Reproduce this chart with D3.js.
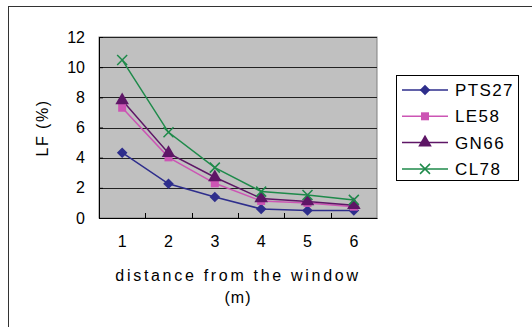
<!DOCTYPE html>
<html>
<head>
<meta charset="utf-8">
<script src="https://cdn.jsdelivr.net/npm/d3@7"></script>
<style>
  body { margin: 0; background: #fff; }
  text { font-family: "Liberation Sans", Arial, sans-serif; fill: #000; }
</style>
</head>
<body>
<div id="chart"></div>
<script>
// 資料
const distances = ["1", "2", "3", "4", "5", "6"];
const yTicks = [0, 2, 4, 6, 8, 10, 12];
const seriesNames = ["PTS27", "LE58", "GN66", "CL78"];
const pts27 = [4.33, 2.27, 1.39, 0.6, 0.5, 0.5];
const le58 = [7.31, 4.02, 2.3, 1.13, 1.0, 0.75];
const gn66 = [7.8, 4.3, 2.7, 1.3, 1.1, 0.85];
const cl78 = [10.48, 5.68, 3.34, 1.75, 1.53, 1.2];
const colors = ["#2e2e8c", "#cc55b4", "#5e1666", "#1e8a4a"];
const symbols = [d3.symbolSquare, d3.symbolSquare, d3.symbolTriangle, d3.symbolCross];

const allSeries = [pts27, le58, gn66, cl78];

const W = 532, H = 327;
const plot = {left: 99, top: 37, right: 377, bottom: 218};

const svg = d3.select("#chart").append("svg")
    .attr("width", W)
    .attr("height", H);

// 外框
svg.append("rect")
    .attr("x", 8.5).attr("y", 6.5)
    .attr("width", 600).attr("height", 400)
    .attr("fill", "none")
    .attr("stroke", "#333");

// 比例尺
const x = d3.scaleBand()
    .domain(distances)
    .range([plot.left, plot.right]);

const y = d3.scaleLinear()
    .domain([0, 12])
    .range([plot.bottom, plot.top]);

// 繪圖區背景
svg.append("rect")
    .attr("x", plot.left).attr("y", plot.top)
    .attr("width", plot.right - plot.left)
    .attr("height", plot.bottom - plot.top)
    .attr("fill", "#c0c0c0")
    .attr("stroke", "#808080");

// 格線
svg.append("g")
    .selectAll("line")
    .data(yTicks.filter(d => d > 0))
    .enter()
    .append("line")
    .attr("x1", plot.left).attr("x2", plot.right)
    .attr("y1", d => Math.round(y(d)) + 0.5)
    .attr("y2", d => Math.round(y(d)) + 0.5)
    .attr("stroke", "#222");

// y 軸
const yAxis = svg.append("g")
    .attr("transform", `translate(${plot.left},0)`)
    .call(d3.axisLeft(y).tickValues(yTicks).tickSize(-4).tickPadding(14));
yAxis.select(".domain").attr("stroke", "#000");
yAxis.selectAll("text")
    .style("font-size", "16px")
    .style("font-family", "Liberation Sans, Arial, sans-serif");

// x 軸
const xAxis = svg.append("g")
    .attr("transform", `translate(0,${plot.bottom})`)
    .call(d3.axisBottom(x).tickSize(0).tickPadding(18));
xAxis.select(".domain").attr("stroke", "#000");
xAxis.selectAll("text")
    .style("font-size", "16px")
    .style("font-family", "Liberation Sans, Arial, sans-serif");

// x 軸分隔刻度
svg.append("g")
    .selectAll("line")
    .data(distances.slice(1))
    .enter()
    .append("line")
    .attr("x1", d => Math.round(x(d)) + 0.5)
    .attr("x2", d => Math.round(x(d)) + 0.5)
    .attr("y1", plot.bottom - 5)
    .attr("y2", plot.bottom)
    .attr("stroke", "#000");

// 軸標題
svg.append("text")
    .attr("x", (plot.left + plot.right) / 2)
    .attr("y", 281)
    .attr("text-anchor", "middle")
    .style("font-size", "16px")
    .style("letter-spacing", "2.7px")
    .text("distance from the window");

svg.append("text")
    .attr("x", (plot.left + plot.right) / 2)
    .attr("y", 303)
    .attr("text-anchor", "middle")
    .style("font-size", "16px")
    .style("letter-spacing", "1px")
    .text("(m)");

svg.append("text")
    .attr("transform", "translate(48,128) rotate(-90)")
    .attr("text-anchor", "middle")
    .style("font-size", "16px")
    .style("letter-spacing", "1.5px")
    .text("LF (%)");

// 折線
const line = d3.line()
    .x((d, i) => x(distances[i]) + x.bandwidth() / 2)
    .y(d => y(d));

allSeries.forEach((vals, si) => {
    svg.append("path")
        .datum(vals)
        .attr("d", line)
        .attr("fill", "none")
        .attr("stroke", colors[si])
        .attr("stroke-width", 1.5);
});

function drawMarker(g, si, cx, cy) {
    if (si === 3) {
        const s = 5;
        g.append("path")
            .attr("d", `M${cx - s},${cy - s}L${cx + s},${cy + s}M${cx - s},${cy + s}L${cx + s},${cy - s}`)
            .attr("stroke", colors[si])
            .attr("stroke-width", 1.5)
            .attr("fill", "none");
    } else {
        const size = si === 0 ? 56 : si === 1 ? 64 : 80;
        const rot = si === 0 ? 45 : 0;
        g.append("path")
            .attr("d", d3.symbol().type(symbols[si]).size(size)())
            .attr("transform", `translate(${cx},${cy}) rotate(${rot})`)
            .attr("fill", colors[si]);
    }
}

const markers = svg.append("g");
allSeries.forEach((vals, si) => {
    vals.forEach((v, i) => {
        drawMarker(markers, si, x(distances[i]) + x.bandwidth() / 2, y(v));
    });
});

// 圖例
const legend = svg.append("g");
legend.append("rect")
    .attr("x", 396.5).attr("y", 75.5)
    .attr("width", 122).attr("height", 105)
    .attr("fill", "#fff")
    .attr("stroke", "#000");

seriesNames.forEach((name, si) => {
    const ly = 90 + si * 26.3;
    legend.append("line")
        .attr("x1", 402).attr("x2", 448)
        .attr("y1", ly).attr("y2", ly)
        .attr("stroke", colors[si])
        .attr("stroke-width", 1.5);
    drawMarker(legend, si, 425, ly);
    legend.append("text")
        .attr("x", 455)
        .attr("y", ly + 6)
        .style("font-size", "17px")
        .style("letter-spacing", "1.4px")
        .text(name);
});
</script>
</body>
</html>
